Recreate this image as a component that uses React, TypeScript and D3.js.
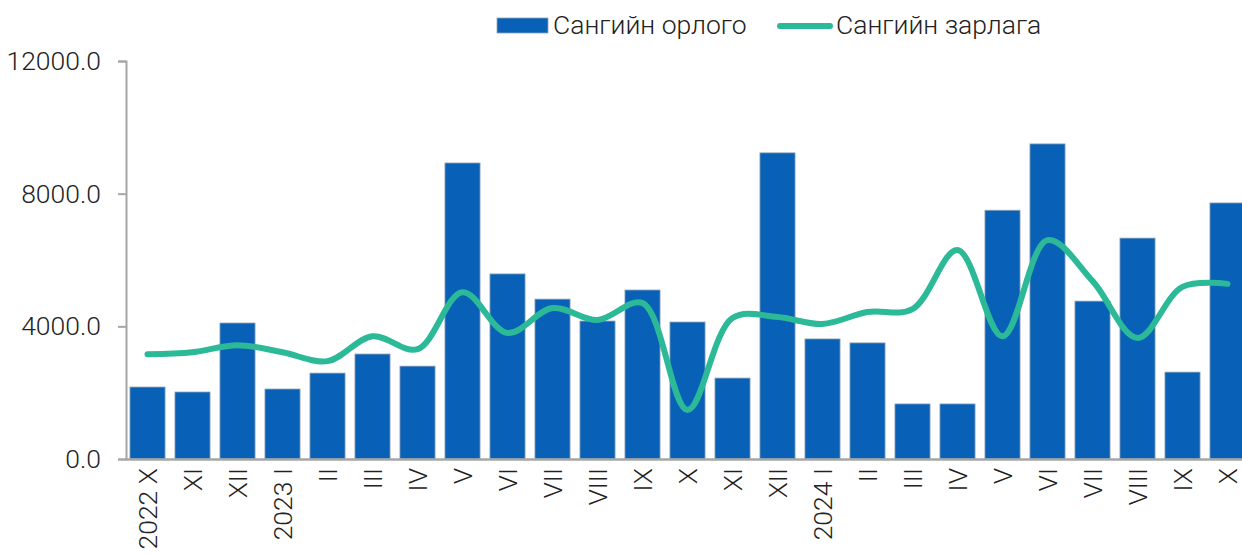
import React, { useEffect, useRef } from 'react';
import * as d3 from 'd3';

const categories = [
  '2022 X', 'XI', 'XII', '2023 I', 'II', 'III', 'IV', 'V', 'VI', 'VII', 'VIII', 'IX', 'X',
  'XI ', 'XII ', '2024 I', 'II ', 'III ', 'IV ', 'V ', 'VI ', 'VII ', 'VIII ', 'IX ', 'X ',
];
const revenue = [
  2170, 2020, 4100, 2110, 2590, 3165, 2800, 8925, 5580, 4820, 4160, 5095, 4130,
  2440, 9230, 3620, 3500, 1660, 1660, 7500, 9500, 4760, 6660, 2620, 7720,
];
const expense = [
  3160, 3220, 3430, 3220, 2950, 3700, 3310, 5030, 3800, 4550, 4190, 4700, 1480,
  4250, 4280, 4070, 4430, 4520, 6300, 3700, 6600, 5370, 3650, 5190, 5280,
];
const yTicks = [0, 4000, 8000, 12000];
const legendLabels = ['Сангийн орлого', 'Сангийн зарлага'];

const W = 1242;
const H = 555;
const FONT = 'Roboto, "Noto Sans", sans-serif';
const FS = 26.5;

export default function App() {
  const ref = useRef<SVGSVGElement>(null);

  useEffect(() => {
    const svg = d3.select(ref.current);
    svg.selectAll('*').remove();

    const x = d3.scaleBand<string>()
      .domain(categories)
      .range([125, 1250])
      .paddingInner(0.22)
      .paddingOuter(0.11);

    const y = d3.scaleLinear().domain([0, 12000]).range([459, 61]);

    // bars
    svg.append('g')
      .selectAll('rect')
      .data(revenue)
      .join('rect')
      .attr('x', (d, i) => x(categories[i])!)
      .attr('y', d => y(d))
      .attr('width', x.bandwidth())
      .attr('height', d => y(0) - y(d))
      .attr('fill', '#0861b6')
      .attr('stroke', '#8fa3b8')
      .attr('stroke-width', 0.8);

    // y axis
    const yAxis = svg.append('g')
      .attr('transform', 'translate(126,0)')
      .call(d3.axisLeft(y).tickValues(yTicks).tickSize(8).tickFormat(d => d3.format('.1f')(d as number)).tickPadding(17));
    yAxis.select('.domain').attr('stroke', '#a6a6a6').attr('stroke-width', 2);
    yAxis.selectAll('.tick line').attr('stroke', '#a6a6a6').attr('stroke-width', 2);
    yAxis.selectAll('.tick text')
      .attr('font-family', FONT)
      .attr('font-weight', 300)
      .attr('font-size', FS)
      .attr('fill', '#222');

    // x axis baseline
    const xAxis = svg.append('g')
      .attr('transform', `translate(0,${y(0)})`)
      .call(d3.axisBottom(x).tickSize(0).tickPadding(0));
    xAxis.select('.domain').attr('stroke', '#a6a6a6').attr('stroke-width', 2.5);
    xAxis.selectAll('.tick text')
      .attr('font-family', FONT)
      .attr('font-weight', 300)
      .attr('font-size', FS)
      .attr('fill', '#222')
      .attr('text-anchor', 'end')
      .attr('transform', 'translate(0,9) rotate(-90)')
      .attr('dy', '0.36em')
      .attr('y', 0)
      .text(d => (d as string).trim());

    // smoothed line
    const line = d3.line<number>()
      .x((d, i) => x(categories[i])! + x.bandwidth() / 2)
      .y(d => y(d))
      .curve(d3.curveCatmullRom.alpha(0.5));

    svg.append('path')
      .datum(expense)
      .attr('d', line)
      .attr('fill', 'none')
      .attr('stroke', '#2cb998')
      .attr('stroke-width', 6)
      .attr('stroke-linecap', 'round')
      .attr('stroke-linejoin', 'round');

    // legend
    const lg = svg.append('g');
    lg.append('rect')
      .attr('x', 497).attr('y', 18).attr('width', 51).attr('height', 15)
      .attr('fill', '#0861b6').attr('stroke', '#8fa3b8').attr('stroke-width', 0.8);
    lg.append('text')
      .attr('x', 553).attr('y', 25).attr('dy', '0.35em')
      .attr('font-family', FONT).attr('font-weight', 300).attr('font-size', FS).attr('fill', '#222')
      .text(legendLabels[0]);
    lg.append('line')
      .attr('x1', 780).attr('x2', 830).attr('y1', 26).attr('y2', 26)
      .attr('stroke', '#2cb998').attr('stroke-width', 6).attr('stroke-linecap', 'round');
    lg.append('text')
      .attr('x', 836).attr('y', 25).attr('dy', '0.35em')
      .attr('font-family', FONT).attr('font-weight', 300).attr('font-size', FS).attr('fill', '#222')
      .text(legendLabels[1]);
  }, []);

  return (
    <svg
      ref={ref}
      width={W}
      height={H}
      style={{ position: 'absolute', left: 0, top: 0, background: '#fff' }}
    />
  );
}
